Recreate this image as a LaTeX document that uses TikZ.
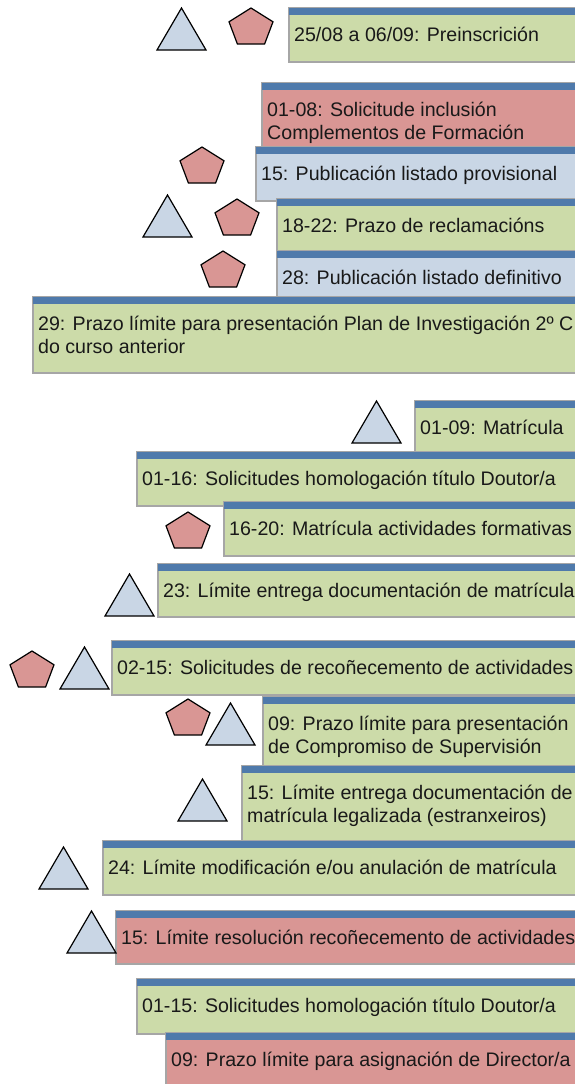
\documentclass[tikz,border=0pt]{standalone}
\usepackage{fontspec}
\setmainfont{Liberation Sans}
\definecolor{barblue}{HTML}{4F7AAB}
\definecolor{gfill}{HTML}{CCDBA9}
\definecolor{rfill}{HTML}{D99694}
\definecolor{bfill}{HTML}{C9D6E5}
\definecolor{edgegray}{HTML}{A6A6A6}
\tikzset{
  card/.style={draw=edgegray, line width=1.3pt},
  cardbar/.style={fill=barblue},
  lbl/.style={anchor=base west, inner sep=0pt, align=left,
    font=\fontsize{19.6}{23}\selectfont, text=black!90},
  shp/.style={draw=black, line width=1.2pt, line join=miter},
  tri/.pic={\path[shp, fill=bfill] (0,42) -- (24.5,0) -- (49,42) -- cycle;},
  pent/.pic={\path[shp, fill=rfill] (22,0) -- (44,13.8) -- (35.6,36) -- (8.4,36) -- (0,13.8) -- cycle;},
}
% single-line card
\newcommand\mycard[6]{%
  \path[card, fill=#4] (#1,#2) rectangle (590,#3);
  \path[cardbar] (#1,#2) rectangle (590,#2+7);
  \node[lbl] (#5) at (#1+5,#2+33) {#6};
}
% two-line card (base anchor is the last line)
\newcommand\mycardii[6]{%
  \path[card, fill=#4] (#1,#2) rectangle (590,#3);
  \path[cardbar] (#1,#2) rectangle (590,#2+7);
  \node[lbl] (#5) at (#1+5,#2+56) {#6};
}
\begin{document}
\begin{tikzpicture}[x=1pt,y=-1pt]
\useasboundingbox (0,0) rectangle (575,1084);
\clip (0,0) rectangle (575,1084);
\fill[white] (0,0) rectangle (575,1084);
\mycard{289}{8}{62}{gfill}{c1}{25/08 a 06/09: Preinscrición}
\mycardii{262}{83}{152}{rfill}{c2}{01-08: Solicitude inclusión\\Complementos de Formación}
\mycard{256}{147}{201}{bfill}{c3}{15: Publicación listado provisional}
\mycard{277}{199}{253}{gfill}{c4}{18-22: Prazo de reclamacións}
\mycard{277}{251}{305}{bfill}{c5}{28: Publicación listado definitivo}
\mycardii{33}{297}{373}{gfill}{c6}{29: Prazo límite para presentación Plan de Investigación 2º C\\do curso anterior}
\mycard{415}{401}{455}{gfill}{c7}{01-09: Matrícula}
\mycard{137}{452}{506}{gfill}{c8}{01-16: Solicitudes homologación título Doutor/a}
\mycard{224}{502}{556}{gfill}{c9}{16-20: Matrícula actividades formativas}
\mycard{158}{564}{617}{gfill}{c10}{23: Límite entrega documentación de matrícula}
\mycard{112}{641}{695}{gfill}{c11}{02-15: Solicitudes de recoñecemento de actividades}
\mycardii{263}{697}{770}{gfill}{c12}{09: Prazo límite para presentación\\de Compromiso de Supervisión}
\mycardii{242}{766}{842}{gfill}{c13}{15: Límite entrega documentación de\\matrícula legalizada (estranxeiros)}
\mycard{103}{841}{895}{gfill}{c14}{24: Límite modificación e/ou anulación de matrícula}
\mycard{116}{911}{964}{rfill}{c15}{15: Límite resolución recoñecemento de actividades}
\mycard{137}{979}{1034}{gfill}{c16}{01-15: Solicitudes homologación título Doutor/a}
\mycard{166}{1033}{1095}{rfill}{c17}{09: Prazo límite para asignación de Director/a}
% shapes
\pic (t1) at (157,8) {tri};
\pic (p1) at (229,8) {pent};
\pic (p2) at (180,147) {pent};
\pic (t2) at (143,195) {tri};
\pic (p3) at (215,199) {pent};
\pic (p4) at (201,251) {pent};
\pic (t3) at (352,401) {tri};
\pic (p5) at (166,512) {pent};
\pic (t4) at (105,574) {tri};
\pic (p6) at (10,651) {pent};
\pic (t5) at (60,647) {tri};
\pic (p7) at (166,699) {pent};
\pic (t6) at (206,703) {tri};
\pic (t7) at (178,779) {tri};
\pic (t8) at (39,847) {tri};
\pic (t9) at (67,911) {tri};
\end{tikzpicture}
\end{document}
